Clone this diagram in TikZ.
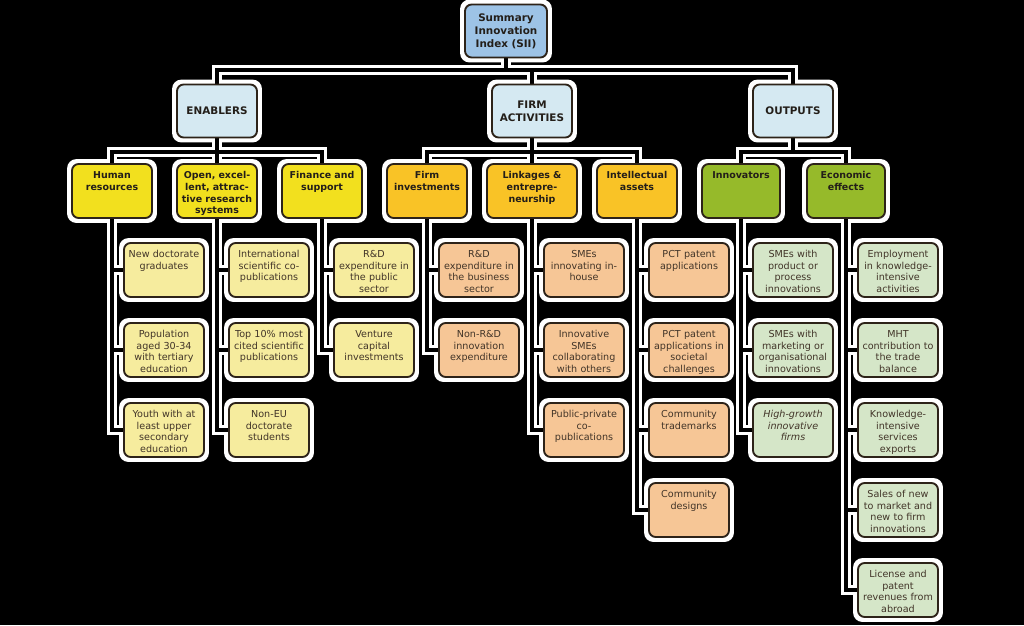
\documentclass[tikz,border=0pt]{standalone}
\usepackage{fontspec}
\setmainfont{DejaVu Sans}
\usetikzlibrary{positioning, calc}

\definecolor{siiBlue}{RGB}{157, 195, 230}
\definecolor{pillarBlue}{RGB}{213, 233, 242}
\definecolor{enablerYellow}{RGB}{242, 224, 30}
\definecolor{activityGold}{RGB}{249, 195, 38}
\definecolor{outputGreen}{RGB}{150, 186, 42}
\definecolor{enablerPale}{RGB}{246, 236, 158}
\definecolor{activityPale}{RGB}{246, 198, 150}
\definecolor{outputPale}{RGB}{213, 230, 200}
\definecolor{boxEdge}{RGB}{45, 35, 25}
\definecolor{inkDark}{RGB}{35, 30, 25}
\definecolor{inkSoft}{RGB}{65, 52, 40}

\pgfdeclarelayer{back}
\pgfsetlayers{back,main}

\tikzset{
  box/.style={draw=boxEdge, line width=1.4pt, rounded corners=5pt, align=center, inner xsep=2pt, inner ysep=3pt},
  headbox/.style={box, text=inkDark, font=\bfseries\fontsize{7.8}{9.7}\selectfont, text width=56pt, minimum height=39.75pt},
  dimbox/.style={box, text=inkDark, font=\bfseries\fontsize{7.1}{8.8}\selectfont, text width=56pt, text height=8pt, text depth=26.5pt},
  indbox/.style={box, text=inkSoft, font=\fontsize{7.2}{8.8}\selectfont, text width=56pt, text height=7.8pt, text depth=26.7pt},
  wirehalo/.style={draw=white, line width=8pt},
  wirecore/.style={draw=black, line width=2.4pt},
}

% all connectors, drawn once as halo and once as core
\newcommand{\treewires}[1]{%
  \draw[#1] (sii.south) -- (topbus);
  \draw[#1] (topbus) -| (enab.north);
  \draw[#1] (topbus) -| (firm.north);
  \draw[#1] (topbus) -| (outp.north);
  % pillars to dimensions
  \draw[#1] (enab.south) -- (enab |- midbus) -| (hum.north);
  \draw[#1] (enab |- midbus) -| (fin.north);
  \draw[#1] (enab |- midbus) -- (open.north);
  \draw[#1] (firm.south) -- (firm |- midbus) -| (inv.north);
  \draw[#1] (firm |- midbus) -| (ipa.north);
  \draw[#1] (firm |- midbus) -- (link.north);
  \draw[#1] (outp.south) -- (outp |- midbus) -| (innov.north);
  \draw[#1] (outp |- midbus) -| (econ.north);
  % dimensions to indicators
  \foreach \i in {1,2,3} \draw[#1] (hum.south) |- (hum\i.west);
  \foreach \i in {1,2,3} \draw[#1] (open.south) |- (open\i.west);
  \foreach \i in {1,2} \draw[#1] (fin.south) |- (fin\i.west);
  \foreach \i in {1,2} \draw[#1] (inv.south) |- (inv\i.west);
  \foreach \i in {1,2,3} \draw[#1] (link.south) |- (link\i.west);
  \foreach \i in {1,...,4} \draw[#1] (ipa.south) |- (ipa\i.west);
  \foreach \i in {1,2,3} \draw[#1] (innov.south) |- (innov\i.west);
  \foreach \i in {1,...,5} \draw[#1] (econ.south) |- (econ\i.west);
}

\begin{document}
\begin{tikzpicture}[x=0.75pt, y=-0.75pt]
  \useasboundingbox (0,0) rectangle (1024,625);

  % Index and pillars
  \node[headbox, fill=siiBlue, text width=57.5pt] (sii) at (506,31) {Summary\\Innovation\\Index (SII)};
  \node[headbox, fill=pillarBlue] (enab) at (217,111) {ENABLERS};
  \node[headbox, fill=pillarBlue] (firm) at (532,111) {FIRM\\ACTIVITIES};
  \node[headbox, fill=pillarBlue] (outp) at (793,111) {OUTPUTS};
  \coordinate (topbus) at (506,70);
  \coordinate (midbus) at (0,152);

  % Dimensions
  \node[dimbox, fill=enablerYellow] (hum) at (112,191) {Human\\resources};
  \node[dimbox, fill=enablerYellow] (open) at (217,191) {Open, excel-\\lent, attrac-\\tive research\\systems};
  \node[dimbox, fill=enablerYellow] (fin) at (322,191) {Finance and\\support};
  \node[dimbox, fill=activityGold] (inv) at (427,191) {Firm\\investments};
  \node[dimbox, fill=activityGold, text width=63.5pt] (link) at (532,191) {Linkages \&\\entrepre-\\neurship};
  \node[dimbox, fill=activityGold] (ipa) at (637,191) {Intellectual\\assets};
  \node[dimbox, fill=outputGreen, text width=54.5pt] (innov) at (741,191) {Innovators};
  \node[dimbox, fill=outputGreen, text width=54.5pt] (econ) at (846,191) {Economic\\effects};

  % Indicators
  \foreach \i/\txt in {1/{New doctorate\\graduates}, 2/{Population\\aged 30-34\\with tertiary\\education}, 3/{Youth with at\\least upper\\secondary\\education}}
    \node[indbox, fill=enablerPale] (hum\i) at (164,190+80*\i) {\txt};
  \foreach \i/\txt in {1/{International\\scientific co-\\publications}, 2/{Top 10\% most\\cited scientific\\publications}, 3/{Non-EU\\doctorate\\students}}
    \node[indbox, fill=enablerPale] (open\i) at (269,190+80*\i) {\txt};
  \foreach \i/\txt in {1/{R\&D\\expenditure in\\the public\\sector}, 2/{Venture\\capital\\investments}}
    \node[indbox, fill=enablerPale] (fin\i) at (374,190+80*\i) {\txt};
  \foreach \i/\txt in {1/{R\&D\\expenditure in\\the business\\sector}, 2/{Non-R\&D\\innovation\\expenditure}}
    \node[indbox, fill=activityPale] (inv\i) at (479,190+80*\i) {\txt};
  \foreach \i/\txt in {1/{SMEs\\innovating in-\\house}, 2/{Innovative\\SMEs\\collaborating\\with others}, 3/{Public-private\\co-\\publications}}
    \node[indbox, fill=activityPale] (link\i) at (584,190+80*\i) {\txt};
  \foreach \i/\txt in {1/{PCT patent\\applications}, 2/{PCT patent\\applications in\\societal\\challenges}, 3/{Community\\trademarks}, 4/{Community\\designs}}
    \node[indbox, fill=activityPale] (ipa\i) at (689,190+80*\i) {\txt};
  \foreach \i/\txt in {1/{SMEs with\\product or\\process\\innovations}, 2/{SMEs with\\marketing or\\organisational\\innovations}, 3/{\itshape High-growth\\\itshape innovative\\\itshape firms}}
    \node[indbox, fill=outputPale] (innov\i) at (793,190+80*\i) {\txt};
  \foreach \i/\txt in {1/{Employment\\in knowledge-\\intensive\\activities}, 2/{MHT\\contribution to\\the trade\\balance}, 3/{Knowledge-\\intensive\\services\\exports}, 4/{Sales of new\\to market and\\new to firm\\innovations}, 5/{License and\\patent\\revenues from\\abroad}}
    \node[indbox, fill=outputPale] (econ\i) at (898,190+80*\i) {\txt};

  \begin{pgfonlayer}{back}
    \fill[black] (0,0) rectangle (1024,625);
    % white halos round the boxes
    \foreach \n in {sii,enab,firm,outp,hum,open,fin,inv,link,ipa,innov,econ,
      hum1,hum2,hum3,open1,open2,open3,fin1,fin2,inv1,inv2,link1,link2,link3,
      ipa1,ipa2,ipa3,ipa4,innov1,innov2,innov3,econ1,econ2,econ3,econ4,econ5}
      \fill[white, rounded corners=7pt] ([xshift=-3pt, yshift=-3pt]\n.south west) rectangle ([xshift=3pt, yshift=3pt]\n.north east);
    \treewires{wirehalo}
    \treewires{wirecore}
  \end{pgfonlayer}
\end{tikzpicture}
\end{document}
